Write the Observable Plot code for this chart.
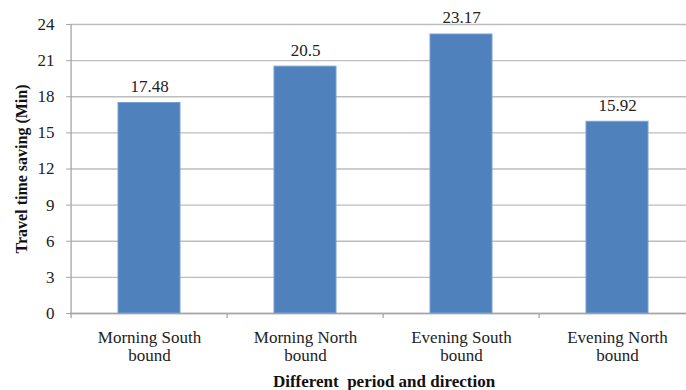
<!DOCTYPE html>
<html>
<head>
<meta charset="utf-8">
<script src="https://cdn.jsdelivr.net/npm/d3@7"></script>
<script src="https://cdn.jsdelivr.net/npm/@observablehq/plot@0.6"></script>
<style>
  html, body { margin: 0; padding: 0; background: #fff; }
  svg { overflow: hidden; }
  svg, svg text { font-family: "Liberation Serif", "DejaVu Serif", serif !important; }
</style>
</head>
<body>
<div id="chart"></div>
<script>
const categories = ["Morning South\nbound", "Morning North\nbound", "Evening South\nbound", "Evening North\nbound"];
const values = [17.48, 20.5, 23.17, 15.92];
const valueLabels = ["17.48", "20.5", "23.17", "15.92"];
const yTicks = [0, 3, 6, 9, 12, 15, 18, 21, 24];
const yTitle = "Travel time saving (Min)";
const xTitle = "Different\u00a0 period and direction";

const data = categories.map((c, i) => ({cat: c, value: values[i], label: valueLabels[i]}));

const textColor = "#222";

const chart = Plot.plot({
  width: 686,
  height: 390,
  marginLeft: 70,
  marginRight: -11,
  marginTop: 24,
  marginBottom: 77,
  style: {fontSize: "17px", color: textColor, background: "#fff"},
  x: {domain: categories, paddingInner: 0.6, paddingOuter: 0.3, axis: null},
  y: {domain: [0, 24], axis: null},
  marks: [
    Plot.gridY(yTicks, {stroke: "#bdbdbd", strokeOpacity: 1, strokeWidth: 1.3}),
    Plot.axisY(yTicks, {tickSize: 4, tickPadding: 12, stroke: "#a6a6a6", fill: textColor, fontSize: 17, label: null, style: {letterSpacing: "1px"}}),
    Plot.ruleY([0], {stroke: "#a6a6a6", strokeWidth: 1.3}),
    Plot.ruleX(categories, {x: d => d, dx: -78.4, insetTop: 289, insetBottom: -5, stroke: "#a6a6a6", strokeWidth: 1.3}),
    Plot.ruleX(categories.slice(0, 1), {x: d => d, dx: -78.4, stroke: "#a6a6a6", strokeWidth: 1.3}),
    Plot.barY(data, {x: "cat", y: "value", fill: "#4f81bd", stroke: "#7aa0cf", strokeWidth: 1}),
    Plot.text(data, {x: "cat", y: "value", text: "label", dy: -11, lineAnchor: "bottom", fill: textColor, fontSize: 17, style: {letterSpacing: "1px"}}),
    Plot.text(data, {x: "cat", y: 0, text: "cat", dy: 16, lineAnchor: "top", lineHeight: 1.1, fill: textColor, fontSize: 17, style: {letterSpacing: "1px"}}),
    Plot.text([xTitle], {frameAnchor: "bottom", dy: 68, text: d => d, fontWeight: "bold", fontSize: 17, fill: "#111", lineAnchor: "middle", style: {letterSpacing: "0.5px"}}),
    Plot.text([yTitle], {frameAnchor: "left", dx: -49, rotate: -90, textAnchor: "middle", text: d => d, fontWeight: "bold", fontSize: 16, fill: "#111", lineAnchor: "middle", style: {letterSpacing: "0.5px"}})
  ]
});
document.getElementById("chart").appendChild(chart);
</script>
</body>
</html>
